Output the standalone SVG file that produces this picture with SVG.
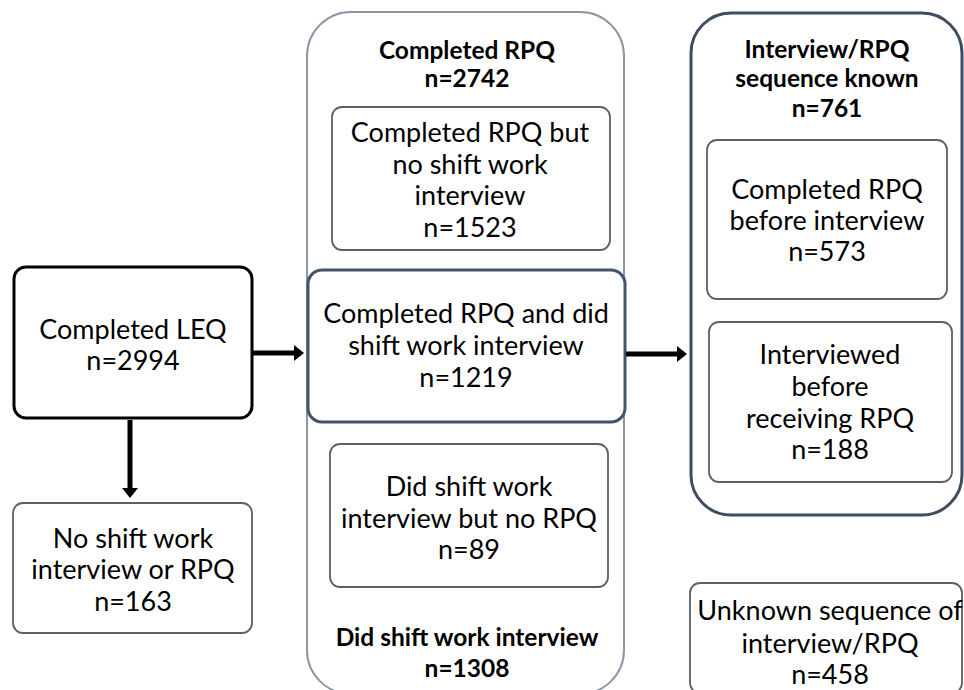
<svg xmlns="http://www.w3.org/2000/svg" width="964" height="690" viewBox="0 0 964 690">
<defs>
<style>
.t{font-family:Lato,"Liberation Sans",sans-serif;font-size:27px;fill:#000;text-anchor:middle}
.b{font-family:Lato,"Liberation Sans",sans-serif;font-size:24.5px;font-weight:bold;fill:#000;text-anchor:middle}
.inner{fill:#fff;stroke:#5f5f5f;stroke-width:1.8}
.conn{stroke:#000;stroke-width:5;fill:none}
</style>
<marker id="ah" markerWidth="4" markerHeight="4" refX="1.4" refY="2" orient="auto" markerUnits="strokeWidth" viewBox="0 0 2 4">
<path d="M0,0.4 L2,2 L0,3.6 Z" fill="#000"/>
</marker>
</defs>
<rect width="964" height="690" fill="#fff"/>
<g id="completed-rpq-group">
<rect x="307" y="12" width="317" height="682" rx="44" fill="#fff" stroke="#8a96a6" stroke-width="2"/>
<text class="b" x="467" y="59">Completed RPQ</text>
<text class="b" x="467" y="87">n=2742</text>
<text class="b" x="467" y="646">Did shift work interview</text>
<text class="b" x="467" y="677">n=1308</text>
</g>
<g id="sequence-known-group">
<rect x="691" y="13" width="271" height="502" rx="40" fill="#fff" stroke="#3f4d62" stroke-width="3"/>
<text class="b" x="827" y="58">Interview/RPQ</text>
<text class="b" x="827" y="87">sequence known</text>
<text class="b" x="827" y="117">n=761</text>
</g>
<g id="completed-leq">
<rect x="14" y="267" width="238" height="151" rx="12" fill="#fff" stroke="#000" stroke-width="3"/>
<text class="t" x="133" y="339">Completed LEQ</text>
<text class="t" x="133" y="370">n=2994</text>
</g>
<g id="no-shift-no-rpq">
<rect x="13" y="503" width="239" height="130" rx="10" class="inner"/>
<text class="t" x="133" y="548">No shift work</text>
<text class="t" x="133" y="579">interview or RPQ</text>
<text class="t" x="133" y="611">n=163</text>
</g>
<g id="rpq-no-interview">
<rect x="332" y="107" width="278" height="143" rx="10" class="inner"/>
<text class="t" x="470" y="142">Completed RPQ but</text>
<text class="t" x="470" y="174">no shift work</text>
<text class="t" x="470" y="205">interview</text>
<text class="t" x="470" y="237">n=1523</text>
</g>
<g id="rpq-and-interview">
<rect x="308" y="270" width="317" height="152" rx="14" fill="#fff" stroke="#44546a" stroke-width="3"/>
<text class="t" x="466" y="323">Completed RPQ and did</text>
<text class="t" x="466" y="355">shift work interview</text>
<text class="t" x="466" y="387">n=1219</text>
</g>
<g id="interview-no-rpq">
<rect x="330" y="444" width="278" height="143" rx="10" class="inner"/>
<text class="t" x="469" y="496">Did shift work</text>
<text class="t" x="469" y="528">interview but no RPQ</text>
<text class="t" x="469" y="559">n=89</text>
</g>
<g id="rpq-before-interview">
<rect x="707" y="140" width="240" height="159" rx="10" class="inner"/>
<text class="t" x="827" y="199">Completed RPQ</text>
<text class="t" x="827" y="230">before interview</text>
<text class="t" x="827" y="261">n=573</text>
</g>
<g id="interviewed-before-rpq">
<rect x="709" y="322" width="243" height="160" rx="10" class="inner"/>
<text class="t" x="830" y="364">Interviewed</text>
<text class="t" x="830" y="396">before</text>
<text class="t" x="830" y="428">receiving RPQ</text>
<text class="t" x="830" y="459">n=188</text>
</g>
<g id="unknown-sequence">
<rect x="690" y="583" width="272" height="110" rx="10" class="inner"/>
<text class="t" x="830" y="620">Unknown sequence of</text>
<text class="t" x="830" y="653">interview/RPQ</text>
<text class="t" x="830" y="684">n=458</text>
</g>
<g id="connectors">
<line class="conn" x1="253" y1="353" x2="301" y2="353" marker-end="url(#ah)"/>
<line class="conn" x1="626" y1="354" x2="684" y2="354" marker-end="url(#ah)"/>
<line class="conn" x1="130" y1="420" x2="130" y2="495" marker-end="url(#ah)"/>
</g>
</svg>
